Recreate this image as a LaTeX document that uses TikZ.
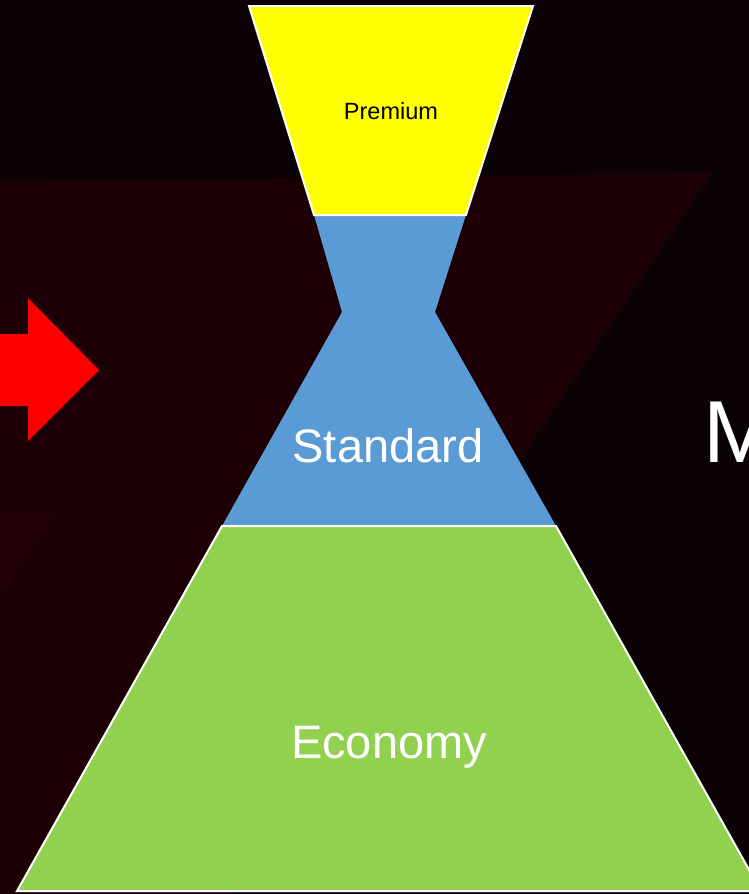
\documentclass[tikz,border=0pt]{standalone}
\usepackage{fontspec}
\setmainfont{Liberation Sans}
\usetikzlibrary{calc}

\definecolor{bgdark}{HTML}{0A0204}
\definecolor{bgred}{HTML}{1D0005}
\definecolor{bgglow}{HTML}{210006}
\definecolor{premiumyellow}{HTML}{FFFF00}
\definecolor{standardblue}{HTML}{5B9BD5}
\definecolor{economygreen}{HTML}{92D050}

\begin{document}
\begin{tikzpicture}[x=1pt, y=-1pt, tier/.style={draw=white, line width=2pt, line join=miter}, tiertext/.style={anchor=base, inner sep=0pt, text=white, font=\fontsize{47}{47}\selectfont}]
\useasboundingbox (0,0) rectangle (749,894);
\clip (0,0) rectangle (749,894);
% background
\fill[bgdark] (0,0) rectangle (749,894);
\fill[bgred] (0,182) -- (712,173) -- (231,894) -- (0,894) -- cycle;
\fill[bgglow] (0,513) -- (58,513) -- (0,597) -- cycle;
\fill[red] (-2,334) -- (28,334) -- (28,298) -- (99,370) -- (28,441) -- (28,406) -- (-2,406) -- cycle;

\path (314,215) coordinate (pl) (466,215) coordinate (pr)
      (342,312) coordinate (wl) (435,312) coordinate (wr)
      (222,526) coordinate (sl) (556,526) coordinate (sr);
\fill[standardblue] (pl) -- (pr) -- (wr) -- (sr) -- (sl) -- (wl) -- cycle;
\filldraw[tier, fill=premiumyellow] (249,6) -- (533,6) -- (pr) -- (pl) -- cycle;
\filldraw[tier, fill=economygreen] (sl) -- (sr) -- (761,891) -- (17,891) -- cycle;

\node[tiertext, text=black, font=\fontsize{23.5}{24}\selectfont] (premium) at (391,119) {Premium};
\node[tiertext] (standard) at (388,462) {Standard};
\node[tiertext] (economy) at (389,758) {Economy};
\node[tiertext, anchor=base west, font=\fontsize{88}{88}\selectfont] (mtext) at (703,462) {M};
\end{tikzpicture}
\end{document}
